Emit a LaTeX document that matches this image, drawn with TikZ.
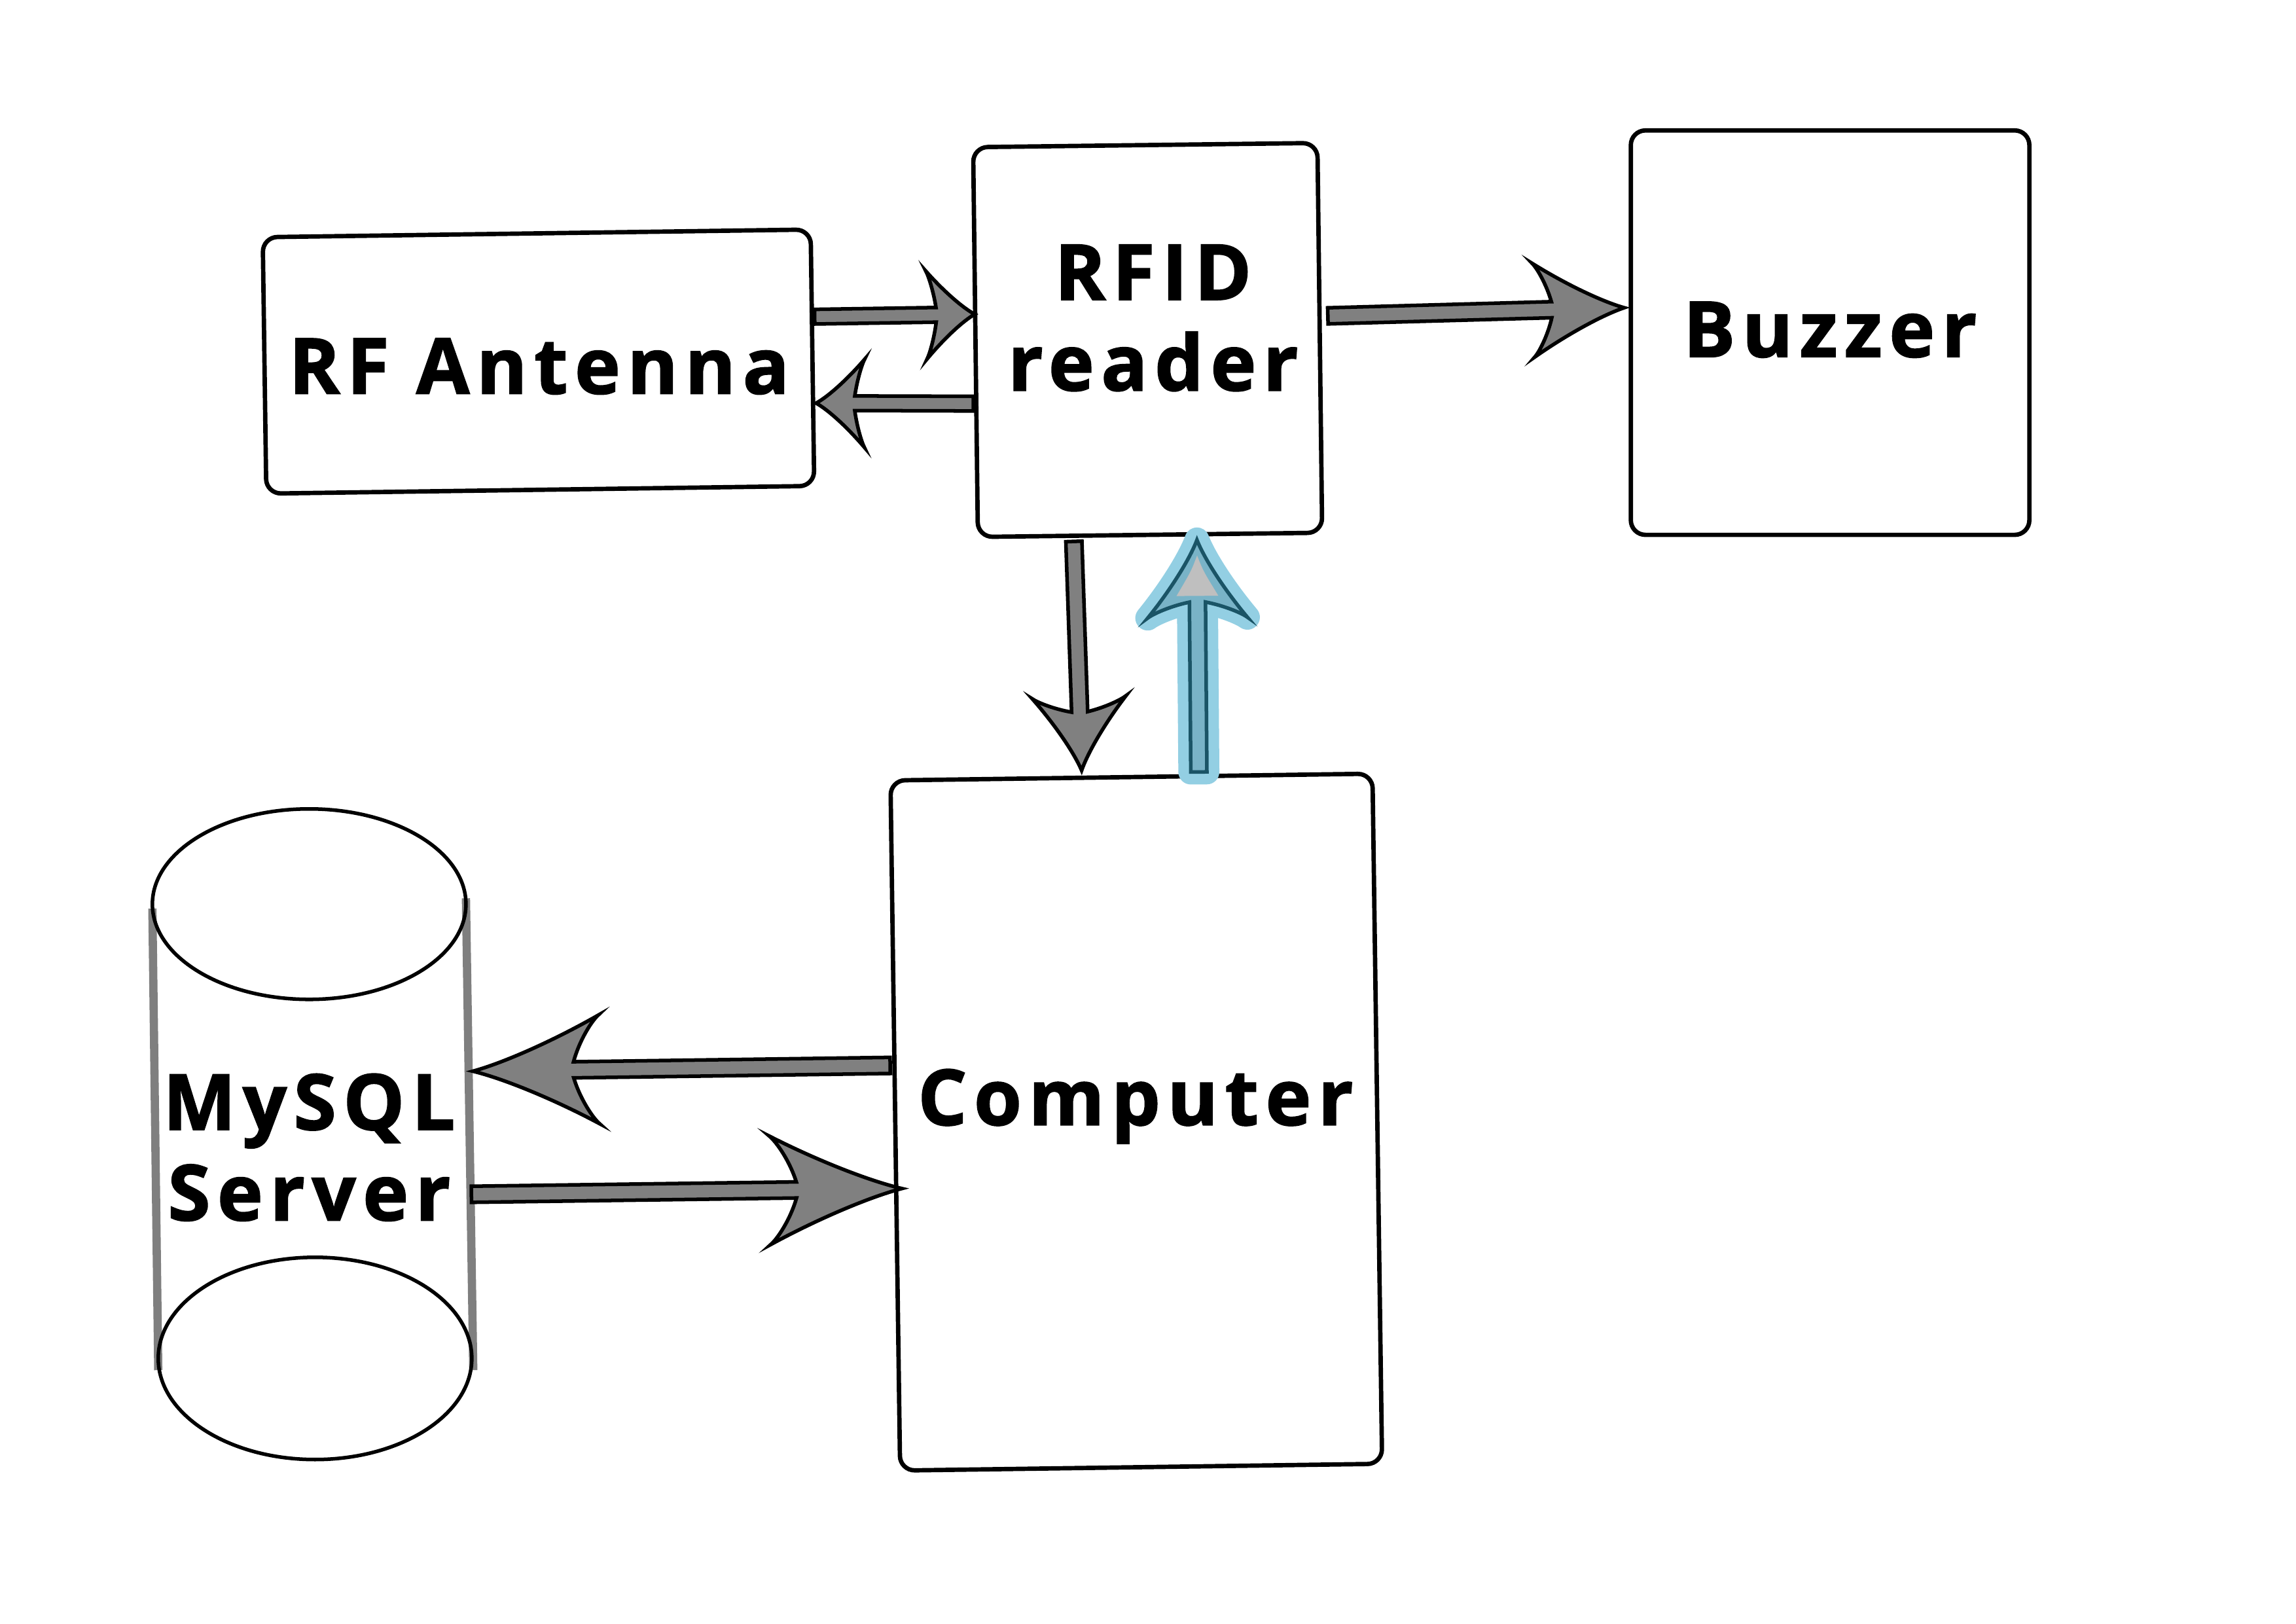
\documentclass[tikz,border=0pt]{standalone}
\usepackage{fontspec}
\usetikzlibrary{calc}
\newfontfamily\lblfont{Open Sans}[LetterSpace=9,FakeBold=1.6]
\definecolor{arrgray}{HTML}{808080}
\definecolor{sidegray}{HTML}{7F7F7F}
\definecolor{glowblue}{HTML}{93CFE3}
\definecolor{fillblue}{HTML}{79B3C7}
\definecolor{edgeblue}{HTML}{1A5466}
\definecolor{headgray}{HTML}{BFBFBF}
\tikzset{
  box/.style={draw, line width=0.85pt, rounded corners=1mm, fill=white, inner sep=0pt},
  lbl/.style={font=\lblfont\bfseries\fontsize{15pt}{17.6pt}\selectfont, align=center, inner sep=0pt},
  grayarrow/.style={fill=arrgray, draw=black, line width=0.7pt, line join=miter},
  bluearrow/.style={fill=fillblue, draw=edgeblue, line width=0.7pt,
     preaction={draw=glowblue, line width=1.7mm, line join=round}},
  headfill/.style={fill=headgray, draw=none},
}
% #1 start, #2 end, #3 head length, #4 head half width, #5 shaft half width, #6 style
\newcommand{\fatarrow}[6]{%
  \path let \p1=(#1), \p2=(#2) in \pgfextra{%
    \pgfmathsetmacro\faA{atan2(\y2-\y1,\x2-\x1)}%
    \pgfmathsetmacro\faL{veclen(\x2-\x1,\y2-\y1)/0.284528}%
    \xdef\faang{\faA}\xdef\falen{\faL}};
  \begin{scope}[shift={(#1)}, rotate=\faang]
    \draw[#6] (0,{-#5}) -- ({\falen-0.8*#3},{-#5})
      .. controls ({\falen-0.85*#3},{-0.55*#4}) and ({\falen-0.95*#3},{-0.9*#4}) .. ({\falen-#3},{-#4})
      .. controls ({\falen-0.65*#3},{-0.55*#4}) and ({\falen-0.25*#3},{-0.15*#4}) .. (\falen,0)
      .. controls ({\falen-0.25*#3},{0.15*#4}) and ({\falen-0.65*#3},{0.55*#4}) .. ({\falen-#3},{#4})
      .. controls ({\falen-0.95*#3},{0.9*#4}) and ({\falen-0.85*#3},{0.55*#4}) .. ({\falen-0.8*#3},{#5})
      -- (0,{#5}) -- cycle;
  \end{scope}}
% inner light patch of a head: #1 start, #2 end, #3 head length, #4 head half width
\newcommand{\headpatch}[4]{%
  \path let \p1=(#1), \p2=(#2) in \pgfextra{%
    \pgfmathsetmacro\faA{atan2(\y2-\y1,\x2-\x1)}%
    \pgfmathsetmacro\faL{veclen(\x2-\x1,\y2-\y1)/0.284528}%
    \xdef\faang{\faA}\xdef\falen{\faL}};
  \begin{scope}[shift={(#1)}, rotate=\faang]
    \fill[headfill] ({\falen-0.2*#3},0)
      .. controls ({\falen-0.4*#3},{-0.12*#4}) .. ({\falen-0.72*#3},{-0.42*#4})
      .. controls ({\falen-0.72*#3},{-0.2*#4}) .. ({\falen-0.72*#3},0)
      .. controls ({\falen-0.72*#3},{0.2*#4}) .. ({\falen-0.72*#3},{0.42*#4})
      .. controls ({\falen-0.4*#3},{0.12*#4}) .. cycle;
  \end{scope}}
\begin{document}
\begin{tikzpicture}[x=0.1mm, y=-0.1mm]
\fill[white] (0,0) rectangle (1567,1108);
\useasboundingbox (0,0) rectangle (1567,1108);

% boxes
\node[box, minimum width=37.4mm, minimum height=17.5mm, rotate=0.8] (ant) at (367.5,246.75) {};
\node[box, minimum width=23.5mm, minimum height=26.6mm, rotate=0.7] (rfid) at (783.25,232) {};
\node[box, minimum width=27.2mm, minimum height=27.6mm] (buz) at (1249,227) {};
\node[box, minimum width=32.9mm, minimum height=47.1mm, rotate=0.8] (comp) at (775.5,765.75) {};

% cylinder
\draw[sidegray, line width=1.6pt] (104,620) -- (108,935);
\draw[sidegray, line width=1.6pt] (318,613) -- (323,935);
\draw[line width=0.7pt] (211,617) ellipse [x radius=107, y radius=65];
\draw[line width=0.7pt] (215,927) ellipse [x radius=107, y radius=69];

% labels
\node[lbl] (anttxt) at (368,250) {RF Antenna};
\node[lbl] (rfidtxt) at (787,217) {RFID\\reader};
\node[lbl] (buztxt) at (1249,225) {Buzzer};
\node[lbl] (comptxt) at (775,755) {Computer};
\node[lbl, minimum width=21.4mm] (db) at (211,783) {MySQL\\Server};

% connector end points
\coordinate (a1s) at ($(ant.east)+(0,-28)$);
\coordinate (a1e) at ($(rfid.west)+(1,-19)$);
\coordinate (a2s) at ($(rfid.west)+(0,42)$);
\coordinate (a2e) at ($(ant.east)+(1,31)$);
\coordinate (a3s) at ($(rfid.east)+(4,-15)$);
\coordinate (a3e) at ($(buz.west)+(-3,-17)$);
\coordinate (a4s) at ($(rfid.south)+(-52,3)$);
\coordinate (a4e) at ($(comp.north)+(-34,-3)$);
\coordinate (a5s) at ($(comp.north)+(46,-2)$);
\coordinate (a5e) at ($(rfid.south)+(32,2)$);
\coordinate (a6s) at ($(comp.west)+(-2,-41)$);
\coordinate (a6e) at ($(db.east)+(4,-52)$);
\coordinate (a7s) at ($(db.east)+(3,32)$);
\coordinate (a7e) at ($(comp.west)+(6,43)$);

% connectors
\fatarrow{a1s}{a1e}{33}{30}{5}{grayarrow}
\fatarrow{a2s}{a2e}{33}{30}{5}{grayarrow}
\fatarrow{a3s}{a3e}{62}{32}{5.5}{grayarrow}
\fatarrow{a4s}{a4e}{50}{32}{5.5}{grayarrow}
\fatarrow{a5s}{a5e}{53}{34}{5.5}{bluearrow}
\headpatch{a5s}{a5e}{53}{34}
\fatarrow{a6s}{a6e}{86}{37}{5.5}{grayarrow}
\fatarrow{a7s}{a7e}{90}{37}{5.5}{grayarrow}
\end{tikzpicture}
\end{document}
